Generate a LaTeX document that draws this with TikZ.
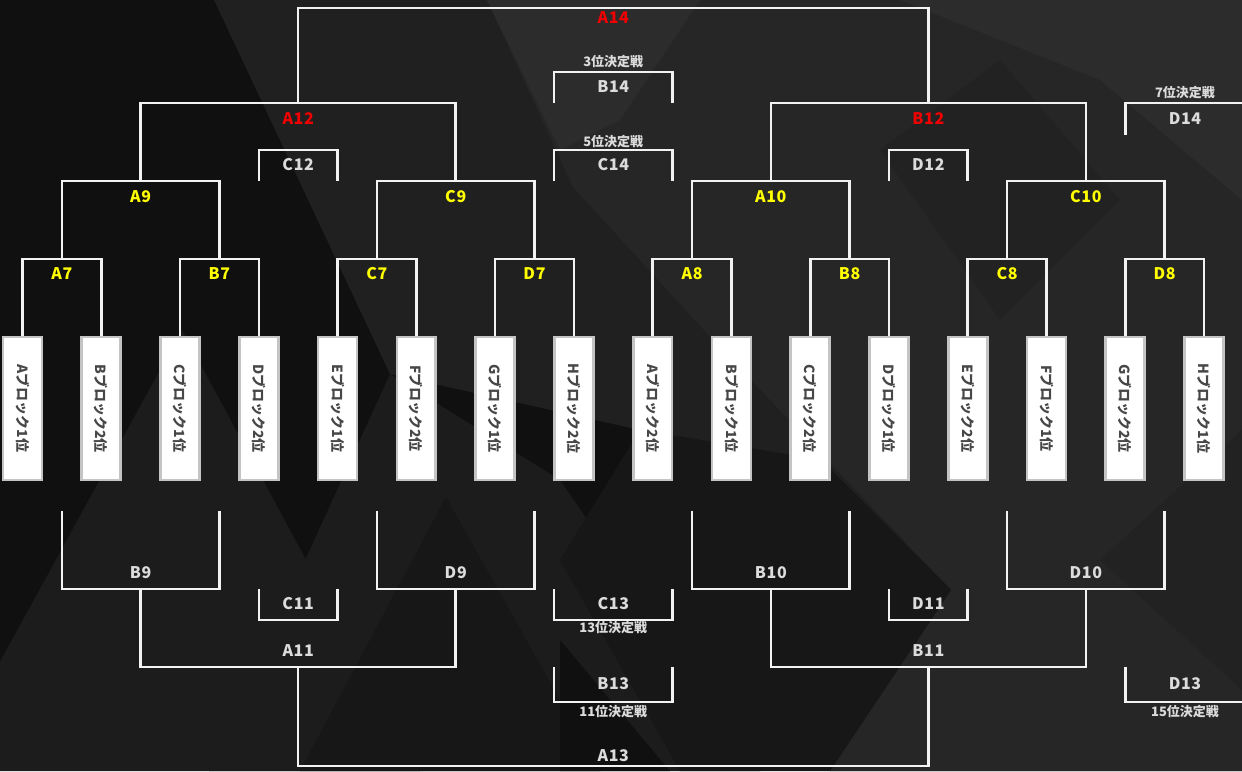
\documentclass[tikz,border=0pt]{standalone}
\usepackage{fontspec}
\setmainfont{Noto Sans CJK JP}
\usetikzlibrary{calc}
\definecolor{bgA}{HTML}{101010}
\definecolor{bgB}{HTML}{1C1C1C}
\definecolor{bgC}{HTML}{262626}
\definecolor{bgD}{HTML}{2C2C2C}
\definecolor{bgE}{HTML}{171717}
\definecolor{bgF}{HTML}{202020}
\definecolor{bgG}{HTML}{222222}
\definecolor{wirec}{HTML}{F2F2F2}
\definecolor{boxb}{HTML}{C4C4C4}
\definecolor{etxt}{HTML}{474747}
\definecolor{yel}{HTML}{FFFF00}
\definecolor{redl}{HTML}{F00000}
\definecolor{grl}{HTML}{DCDCDC}
\begin{document}
\begin{tikzpicture}[x=1pt,y=-1pt,
  wire/.style={draw=wirec,line width=2.6pt},
  entry/.style={draw=boxb,fill=white,line width=1.8pt,minimum width=38pt,minimum height=142pt,inner sep=0pt,text=etxt,font=\bfseries\fontsize{14}{15}\selectfont},
  lblY/.style={text=yel,font=\bfseries\fontsize{16}{17}\selectfont\addfontfeature{LetterSpace=4},inner sep=0pt},
  lblR/.style={text=redl,font=\bfseries\fontsize{16}{17}\selectfont\addfontfeature{LetterSpace=4},inner sep=0pt},
  lblG/.style={text=grl,font=\bfseries\fontsize{16}{17}\selectfont\addfontfeature{LetterSpace=4},inner sep=0pt},
  lblS/.style={text=grl,font=\bfseries\fontsize{13}{14}\selectfont,inner sep=0pt}]
\useasboundingbox (0,0) rectangle (1242,771);
% ---------- background ----------
\fill[bgA] (0,0) rectangle (1242,771);
\fill[bgF] (214,0) -- (1242,0) -- (1242,771) -- (830,771) -- (951,590) -- (821,460) -- (640,430) -- (390,374) -- cycle;
\fill[bgC] (487,0) -- (1242,0) -- (1242,771) -- (830,771) -- (951,590) -- (713,340) -- (573,187) -- cycle;
\fill[bgD] (900,0) -- (1242,0) -- (1242,200) -- (1100,80) -- cycle;
\fill[bgD] (487,0) -- (700,0) -- (620,120) -- (560,150) -- cycle;
\fill[bgG] (880,150) -- (1000,60) -- (1120,200) -- (1000,320) -- cycle;
\fill[bgG] (1242,430) -- (1100,560) -- (1242,690) -- cycle;
\fill[bgB] (182,330) -- (-60,771) -- (420,771) -- cycle;
\fill[bgB] (390,374) -- (209,771) -- (760,771) -- (560,480) -- cycle;
\fill[bgE] (446,497) -- (300,771) -- (600,771) -- cycle;
\fill[bgE] (640,430) -- (821,460) -- (951,590) -- (830,771) -- (680,771) -- (560,560) -- cycle;
\fill[bgA] (560,640) -- (670,771) -- (560,771) -- cycle;
% ---------- entries ----------
\foreach \i/\t in {1/Aブロック1位,2/Bブロック2位,3/Cブロック1位,4/Dブロック2位,5/Eブロック1位,6/Fブロック2位,7/Gブロック1位,8/Hブロック2位,9/Aブロック2位,10/Bブロック1位,11/Cブロック2位,12/Dブロック1位,13/Eブロック2位,14/Fブロック1位,15/Gブロック2位,16/Hブロック1位}
  \node[entry] (e\i) at ({22.5+78.77*(\i-1)},408.5) {\rotatebox{-90}{\t}};
% ---------- level coordinates ----------
\coordinate (yT1) at (0,259);
\coordinate (yT2) at (0,181);
\coordinate (yT3) at (0,103);
\coordinate (yT4) at (0,8);
\coordinate (yB0) at (0,511);
\coordinate (yB1) at (0,589);
\coordinate (yB2) at (0,667);
\coordinate (yB3) at (0,766);
\coordinate (yS1) at (0,72);
\coordinate (yS2) at (0,150);
\coordinate (yS3) at (0,620);
\coordinate (yS4) at (0,702);
\coordinate (y135) at (0,135);
\coordinate (y62) at (0,62);
\coordinate (y87) at (0,87);
\coordinate (y142) at (0,142);
\coordinate (y165) at (0,165);
\coordinate (y604) at (0,604);
\coordinate (y628) at (0,628);
\coordinate (y684) at (0,684);
\coordinate (y712) at (0,712);
\coordinate (xR) at (1250,0);
\coordinate (mC12) at ($(e4)!0.5!(e5)$);
\coordinate (mD12) at ($(e12)!0.5!(e13)$);
\coordinate (mC14) at ($(e8)!0.5!(e9)$);
% first round junctions
\coordinate (jA7) at ({$(e1)!0.5!(e2)$} |- yT1);
\coordinate (jB7) at ({$(e3)!0.5!(e4)$} |- yT1);
\coordinate (jC7) at ({$(e5)!0.5!(e6)$} |- yT1);
\coordinate (jD7) at ({$(e7)!0.5!(e8)$} |- yT1);
\coordinate (jA8) at ({$(e9)!0.5!(e10)$} |- yT1);
\coordinate (jB8) at ({$(e11)!0.5!(e12)$} |- yT1);
\coordinate (jC8) at ({$(e13)!0.5!(e14)$} |- yT1);
\coordinate (jD8) at ({$(e15)!0.5!(e16)$} |- yT1);
\coordinate (jA9) at ({$(jA7)!0.5!(jB7)$} |- yT2);
\coordinate (jC9) at ({$(jC7)!0.5!(jD7)$} |- yT2);
\coordinate (jA10) at ({$(jA8)!0.5!(jB8)$} |- yT2);
\coordinate (jC10) at ({$(jC8)!0.5!(jD8)$} |- yT2);
\coordinate (jA12) at ({$(jA9)!0.5!(jC9)$} |- yT3);
\coordinate (jB12) at ({$(jA10)!0.5!(jC10)$} |- yT3);
\coordinate (jA14) at ({$(jA12)!0.5!(jB12)$} |- yT4);
% bottom brackets
\coordinate (kA7) at (jA7 |- yB0);
\coordinate (kB7) at (jB7 |- yB0);
\coordinate (kC7) at (jC7 |- yB0);
\coordinate (kD7) at (jD7 |- yB0);
\coordinate (kA8) at (jA8 |- yB0);
\coordinate (kB8) at (jB8 |- yB0);
\coordinate (kC8) at (jC8 |- yB0);
\coordinate (kD8) at (jD8 |- yB0);
\coordinate (kB9) at (jA9 |- yB1);
\coordinate (kD9) at (jC9 |- yB1);
\coordinate (kB10) at (jA10 |- yB1);
\coordinate (kD10) at (jC10 |- yB1);
\coordinate (kA11) at (jA12 |- yB2);
\coordinate (kB11) at (jB12 |- yB2);
\coordinate (kA13) at (jA14 |- yB3);
% ---------- wires (winners) ----------
\foreach \a/\j/\b in {e1/jA7/e2,e3/jB7/e4,e5/jC7/e6,e7/jD7/e8,e9/jA8/e10,e11/jB8/e12,e13/jC8/e14,e15/jD8/e16}
  \draw[wire] (\a.north) |- (\j) -| (\b.north);
\foreach \a/\j/\b in {jA7/jA9/jB7,jC7/jC9/jD7,jA8/jA10/jB8,jC8/jC10/jD8,jA9/jA12/jC9,jA10/jB12/jC10,jA12/jA14/jB12}
  \draw[wire] (\a) |- (\j) -| (\b);
% ---------- wires (bottom) ----------
\foreach \a/\j/\b in {kA7/kB9/kB7,kC7/kD9/kD7,kA8/kB10/kB8,kC8/kD10/kD8,kB9/kA11/kD9,kB10/kB11/kD10,kA11/kA13/kB11}
  \draw[wire] (\a) |- (\j) -| (\b);
% ---------- small brackets ----------
\draw[wire] (e4 |- yT2) |- (e5 |- yS2) -- (e5 |- yT2);
\draw[wire] (e12 |- yT2) |- (e13 |- yS2) -- (e13 |- yT2);
\draw[wire] (e8.west |- yT3) |- (e9.east |- yS1) -- (e9.east |- yT3);
\draw[wire] (e8.west |- yT2) |- (e9.east |- yS2) -- (e9.east |- yT2);
\draw[wire] (e15 |- y135) |- (xR |- yT3);
\draw[wire] (e4 |- yB1) |- (e5 |- yS3) -- (e5 |- yB1);
\draw[wire] (e12 |- yB1) |- (e13 |- yS3) -- (e13 |- yB1);
\draw[wire] (e8.west |- yB1) |- (e9.east |- yS3) -- (e9.east |- yB1);
\draw[wire] (e8.west |- yB2) |- (e9.east |- yS4) -- (e9.east |- yB2);
\draw[wire] (e15 |- yB2) |- (xR |- yS4);
% entry borders on top of wire ends
\foreach \i in {1,...,16} \draw[boxb,line width=1.8pt] (e\i.north west) rectangle (e\i.south east);
% ---------- labels ----------
\foreach \n in {A7,B7,C7,D7,A8,B8,C8,D8}
  \node[lblY] (l\n) at ([yshift=-15pt]j\n) {\n};
\foreach \n in {A9,C9,A10,C10}
  \node[lblY] (l\n) at ([yshift=-16pt]j\n) {\n};
\node[lblR] (lA12) at ([yshift=-16pt]jA12) {A12};
\node[lblR] (lB12) at ([yshift=-16pt]jB12) {B12};
\node[lblR] (lA14) at ([yshift=-10pt]jA14) {A14};
\foreach \n in {B9,D9,B10,D10}
  \node[lblG] (l\n) at ([yshift=16pt]k\n) {\n};
\node[lblG] (lA11) at ([yshift=16pt]kA11) {A11};
\node[lblG] (lB11) at ([yshift=16pt]kB11) {B11};
\node[lblG] (lA13) at ([yshift=10pt]kA13) {A13};
\node[lblG] (lC12) at (mC12 |- y165) {C12};
\node[lblG] (lD12) at (mD12 |- y165) {D12};
\node[lblG] (lB14) at (mC14 |- y87) {B14};
\node[lblG] (lC14) at (mC14 |- y165) {C14};
\node[lblS] (s3) at (mC14 |- y62) {3位決定戦};
\node[lblS] (s5) at (mC14 |- y142) {5位決定戦};
\node[lblG] (lD14) at (1185,119) {D14};
\node[lblS] (s7) at (1185,93) {7位決定戦};
\node[lblG] (lC11) at (mC12 |- y604) {C11};
\node[lblG] (lD11) at (mD12 |- y604) {D11};
\node[lblG] (lC13) at (mC14 |- y604) {C13};
\node[lblS] (s13) at (mC14 |- y628) {13位決定戦};
\node[lblG] (lB13) at (mC14 |- y684) {B13};
\node[lblS] (s11) at (mC14 |- y712) {11位決定戦};
\node[lblG] (lD13) at (1185,684) {D13};
\node[lblS] (s15) at (1185,712) {15位決定戦};
\end{tikzpicture}
\end{document}
